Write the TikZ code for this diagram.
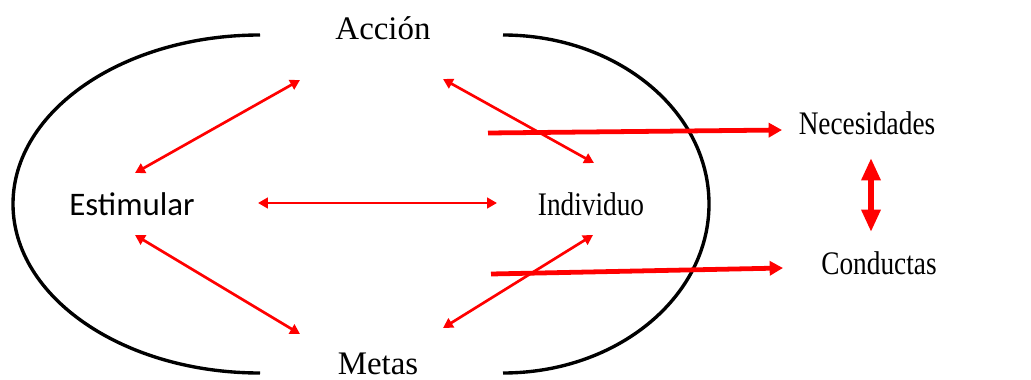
\documentclass[tikz,border=0pt]{standalone}
\usepackage{fontspec}
\setmainfont{Liberation Serif}
\newfontfamily\calibri{Carlito}
\newfontfamily\estrecha[FakeStretch=0.83]{Liberation Serif}
\usetikzlibrary{arrows.meta}

\begin{document}
\begin{tikzpicture}[x=0.025cm, y=-0.025cm,
        texto/.style={anchor=base, inner sep=0pt, font=\fontsize{23.4}{28}\selectfont},
        arco/.style={black, line width=2.4pt},
        flecha/.style={red, line width=1.9pt, {Triangle[length=7pt,width=7.5pt]}-{Triangle[length=7pt,width=7.5pt]}},
        gruesa/.style={red, line width=3.4pt, -{Triangle[length=9.5pt,width=10pt]}},
        doble/.style={red, line width=4.2pt, {Triangle[length=16pt,width=13pt]}-{Triangle[length=16pt,width=13pt]}}]
        \useasboundingbox (0,0) rectangle (1031,380);

        % the two halves of the oval
        \draw[arco] (260,35) arc[start angle=270, end angle=90, x radius=247, y radius=169];
        \draw[arco] (503,35) arc[start angle=-90, end angle=90, x radius=206, y radius=169];

        \node[texto] (accion) at (383,40) {Acción};
        \node[texto] (metas) at (378,374) {Metas};
        \node[texto] (estimular) at (132,216) {\calibri Estimular};
        \node[texto] (individuo) at (591,216) {\estrecha Individuo};
        \node[texto] (necesidades) at (867,135) {\estrecha Necesidades};
        \node[texto] (conductas) at (879,274) {\estrecha Conductas};

        \coordinate (est-acc) at (135,173);
        \coordinate (acc-est) at (300,80);
        \coordinate (acc-ind) at (443,79);
        \coordinate (ind-acc) at (594,163);
        \coordinate (est-ind) at (258,203);
        \coordinate (ind-est) at (497,203);
        \coordinate (est-met) at (135,235);
        \coordinate (met-est) at (300,334);
        \coordinate (ind-met) at (593,235);
        \coordinate (met-ind) at (443,328);

        \draw[flecha] (est-acc) -- (acc-est);
        \draw[flecha] (acc-ind) -- (ind-acc);
        \draw[flecha] (est-ind) -- (ind-est);
        \draw[flecha] (est-met) -- (met-est);
        \draw[flecha] (ind-met) -- (met-ind);

        % arrows leaving the oval
        \coordinate (ind-nec) at (488,133);
        \coordinate (nec-in) at (782,130);
        \coordinate (ind-con) at (491,274);
        \coordinate (con-in) at (783,268);
        \draw[gruesa] (ind-nec) -- (nec-in);
        \draw[gruesa] (ind-con) -- (con-in);

        \coordinate (nec-con) at (871,158);
        \coordinate (con-nec) at (871,232);
        \draw[doble] (nec-con) -- (con-nec);
\end{tikzpicture}
\end{document}
